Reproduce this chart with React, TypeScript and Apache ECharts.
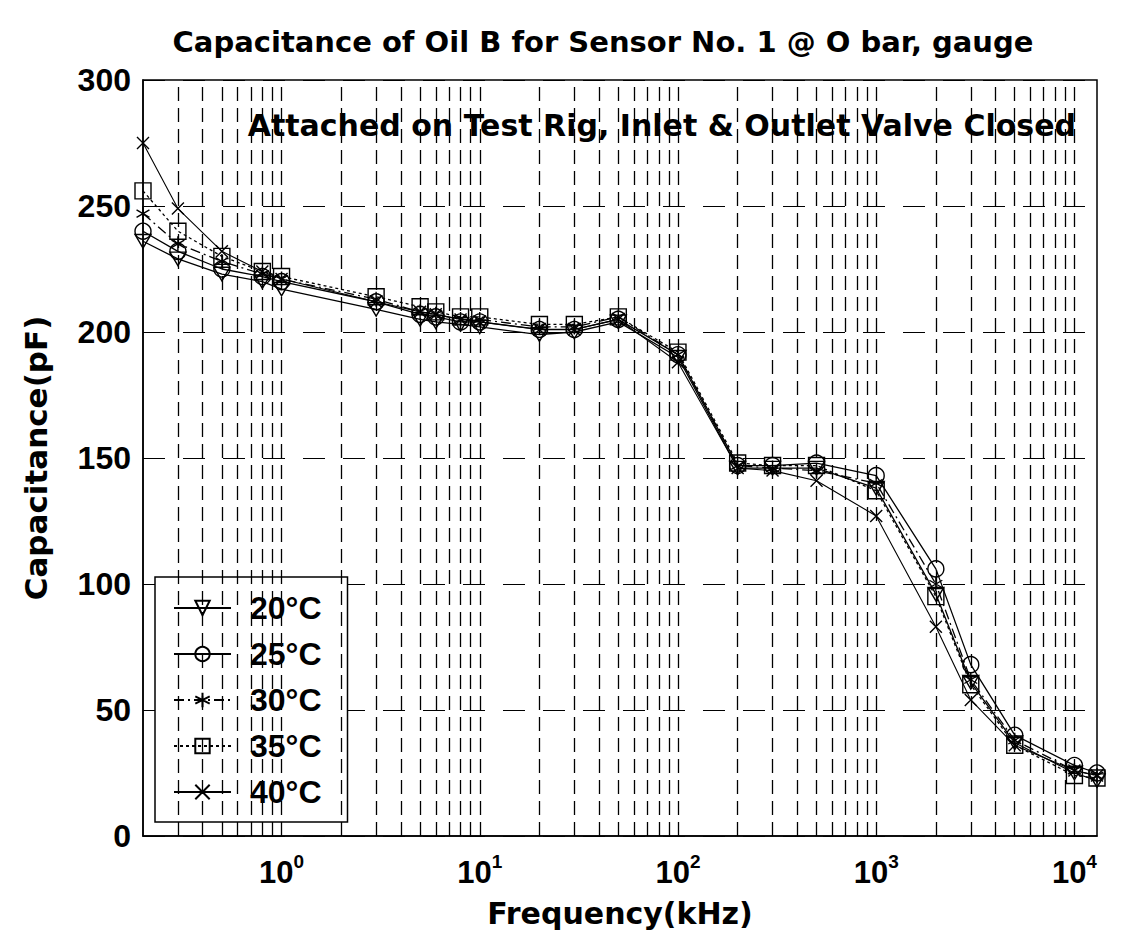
import React, { useEffect, useRef } from 'react';
import * as echarts from 'echarts';

const frequencies = [0.2, 0.3, 0.5, 0.8, 1, 3, 5, 6, 8, 10, 20, 30, 50, 100, 200, 300, 500, 1000, 2000, 3000, 5000, 10000, 13000];
const cap20 = [236, 229, 223, 220, 217, 209, 205, 204, 203, 202, 199, 200, 204, 190, 146, 146, 146, 138, 96, 61, 37, 25, 22];
const cap25 = [240, 232, 225, 222, 220, 212, 207, 206, 204, 204, 201, 201, 205, 191, 147, 147, 148, 143, 106, 68, 40, 28, 25];
const cap30 = [247, 235, 228, 223, 221, 213, 208, 207, 205, 205, 202, 202, 206, 191, 147, 146, 145, 140, 100, 62, 38, 26, 24];
const cap35 = [256, 240, 230, 224, 222, 214, 210, 208, 206, 206, 203, 203, 206, 192, 148, 147, 147, 137, 95, 60, 36, 24, 23];
const cap40 = [275, 249, 232, 224, 221, 212, 208, 207, 205, 204, 201, 201, 205, 188, 146, 145, 141, 127, 83, 54, 36, 26, 24];
const seriesNames = ['20°C', '25°C', '30°C', '35°C', '40°C'];
const gridDecades = [-1, 0, 1, 2, 3, 4];
const gridMultipliers = [1, 2, 3, 4, 5, 6, 7, 8, 9];
const xMin = 0.2;
const xMax = 13000;

const FONT = '"Liberation Sans", Arial, Helvetica, sans-serif';
const WIDE = '"DejaVu Sans", "Liberation Sans", sans-serif';

export default function App() {
  const ref = useRef<HTMLDivElement>(null);
  useEffect(() => {
    document.body.style.margin = '0';
    const chart = echarts.init(ref.current!, null, { renderer: 'svg' });
    const vGrid: number[] = [];
    gridDecades.forEach((d) => {
      gridMultipliers.forEach((k) => {
        const v = Number((k * Math.pow(10, d)).toPrecision(6));
        if (v > xMin && v < xMax) vGrid.push(v);
      });
    });
    const toPairs = (arr: number[]) => frequencies.map((f, i) => [f, arr[i]]);
    const common = {
      type: 'line',
      showAllSymbol: true,
      symbolKeepAspect: true,
      itemStyle: { color: 'transparent', borderColor: '#000', borderWidth: 1.4 },
    };
    const option: any = {
      animation: false,
      backgroundColor: '#fff',
      grid: {
        left: 143, right: 28, top: 80, bottom: 100,
        show: true, borderColor: '#000', borderWidth: 1.5, backgroundColor: 'transparent',
      },
      xAxis: {
        type: 'log', logBase: 10, min: xMin, max: xMax,
        axisLine: { show: true, lineStyle: { color: '#000', width: 1.5 } },
        axisTick: { show: true, inside: true, length: 8, lineStyle: { color: '#000' } },
        splitLine: { show: false },
        axisLabel: {
          showMinLabel: false, showMaxLabel: false, margin: 16,
          formatter: (v: number) => {
            const e = Math.log10(v);
            const r = Math.round(e);
            if (Math.abs(e - r) > 1e-6) return '';
            return `{b|10}{s|${r}}`;
          },
          rich: {
            b: { fontFamily: FONT, fontWeight: 'bold', fontSize: 31, color: '#000', lineHeight: 36, verticalAlign: 'bottom' },
            s: { fontFamily: FONT, fontWeight: 'bold', fontSize: 19, color: '#000', lineHeight: 18, verticalAlign: 'top' },
          },
        },
        name: 'Frequency(kHz)', nameLocation: 'middle', nameGap: 62,
        nameTextStyle: { fontFamily: WIDE, fontWeight: 'bold', fontSize: 30, color: '#000' },
      },
      yAxis: {
        type: 'value', min: 0, max: 300, interval: 50,
        axisLine: { show: true, lineStyle: { color: '#000', width: 1.5 } },
        axisTick: { show: true, inside: true, length: 8, lineStyle: { color: '#000' } },
        splitLine: { show: true, lineStyle: { color: '#000', width: 1.2, type: [22, 18] } },
        axisLabel: { fontFamily: FONT, fontWeight: 'bold', fontSize: 32, color: '#000', margin: 12 },
        name: 'Capacitance(pF)', nameLocation: 'middle', nameGap: 92, nameRotate: 90,
        nameTextStyle: { fontFamily: WIDE, fontWeight: 'bold', fontSize: 31, color: '#000' },
      },
      legend: {
        orient: 'vertical', left: 155, top: 577,
        data: seriesNames,
        backgroundColor: '#fff', borderColor: '#000', borderWidth: 1.5,
        padding: [15, 26, 14, 18],
        itemWidth: 57, itemHeight: 18, itemGap: 14,
        textStyle: { fontFamily: FONT, fontWeight: 'bold', fontSize: 32, color: '#000', lineHeight: 30, padding: [0, 0, 0, 14] },
      },
      graphic: [
        {
          type: 'text', x: 603, y: 42,
          style: { text: 'Capacitance of Oil B for Sensor No. 1 @ O bar, gauge', fontFamily: WIDE, fontWeight: 'bold', fontSize: 29, fill: '#000', textAlign: 'center', textVerticalAlign: 'middle' },
        },
        {
          type: 'text', x: 1076, y: 125, z: 10,
          style: { text: 'Attached on Test Rig, Inlet & Outlet Valve Closed', fontFamily: WIDE, fontWeight: 'bold', fontSize: 30, fill: '#000', textAlign: 'right', textVerticalAlign: 'middle' },
        },
      ],
      series: [
        {
          name: 'grid', type: 'line', data: [], silent: true,
          markLine: {
            silent: true, symbol: ['none', 'none'], label: { show: false },
            lineStyle: { color: '#000', width: 1.3, type: [14, 7] },
            data: vGrid.map((v) => ({ xAxis: v })),
          },
        },
        {
          ...common, name: seriesNames[0], data: toPairs(cap20),
          symbol: 'path://M0,0L10,0L5,9Z', symbolSize: [16, 15],
          lineStyle: { color: '#000', width: 1.3, type: 'solid' },
        },
        {
          ...common, name: seriesNames[1], data: toPairs(cap25),
          symbol: 'circle', symbolSize: 16,
          lineStyle: { color: '#000', width: 1.3, type: 'solid' },
        },
        {
          ...common, name: seriesNames[2], data: toPairs(cap30),
          symbol: 'path://M5,0L5,10M0.7,2.5L9.3,7.5M9.3,2.5L0.7,7.5', symbolSize: 15,
          lineStyle: { color: '#000', width: 1.3, type: [10, 4, 2, 4] },
        },
        {
          ...common, name: seriesNames[3], data: toPairs(cap35),
          symbol: 'rect', symbolSize: 16,
          lineStyle: { color: '#000', width: 1.3, type: [3, 3] },
        },
        {
          ...common, name: seriesNames[4], data: toPairs(cap40),
          symbol: 'path://M0,0L10,10M10,0L0,10', symbolSize: 12,
          lineStyle: { color: '#000', width: 1.1, type: 'solid' },
        },
      ],
    };
    chart.setOption(option);
    return () => chart.dispose();
  }, []);
  return <div ref={ref} style={{ width: 1125, height: 936 }} />;
}
